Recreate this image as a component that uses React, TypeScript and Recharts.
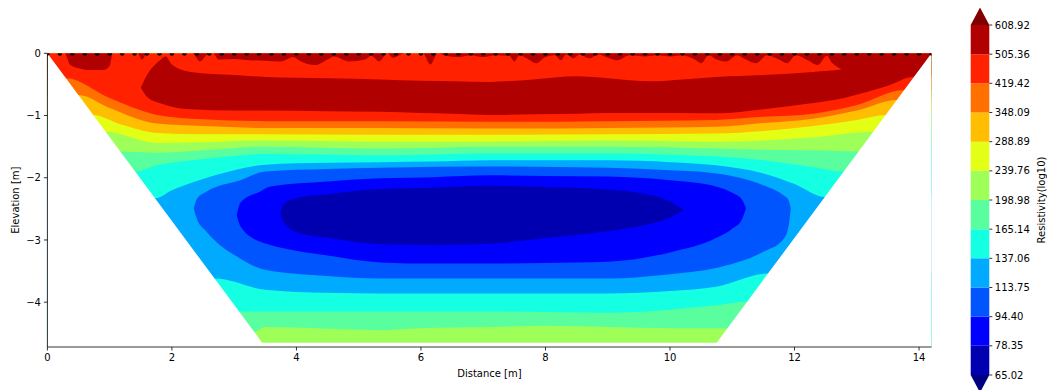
import React from 'react';
import { ComposedChart, Area, XAxis, YAxis, Scatter } from 'recharts';

// ---------- colour scale ----------
const levelLabels = ['65.02', '78.35', '94.40', '113.75', '137.06', '165.14', '198.98', '239.76', '288.89', '348.09', '419.42', '505.36', '608.92'];
const bandColors = ['#0000b0', '#0000ff', '#0055ff', '#00aaff', '#15ffe2', '#59ff9e', '#9eff59', '#e2ff15', '#ffbe00', '#ff7000', '#ff2100', '#b00000'];
const underColor = '#000080';
const overColor = '#800000';
const extendFrac = 0.6; // colorbar extension length in band units

// ---------- axes ----------
const X_MAX = 14.2;
const Y_MIN = -4.72;
const xTicks = [0, 2, 4, 6, 8, 10, 12, 14];
const yTicks = [0, -1, -2, -3, -4];
const electrodes = [0, 0.2, 0.4, 0.6, 0.8, 1, 1.2, 1.4, 1.6, 1.8, 2, 2.2, 2.4, 2.6, 2.8, 3, 3.2, 3.4, 3.6, 3.8, 4, 4.2, 4.4, 4.6, 4.8, 5, 5.2, 5.4, 5.6, 5.8, 6, 6.2, 6.4, 6.6, 6.8, 7, 7.2, 7.4, 7.6, 7.8, 8, 8.2, 8.4, 8.6, 8.8, 9, 9.2, 9.4, 9.6, 9.8, 10, 10.2, 10.4, 10.6, 10.8, 11, 11.2, 11.4, 11.6, 11.8, 12, 12.2, 12.4, 12.6, 12.8, 13, 13.2, 13.4, 13.6, 13.8, 14, 14.2];

// pseudo-section outline (x, elevation)
const trapezoid = [[0, 0], [3.45, -4.65], [10.75, -4.65], [14.2, 0]];

// ---------- contour boundaries (x, elevation) ----------
// upper layers: region from surface down to boundary
const top137 = [[0, -2.33], [1.73, -2.33], [2.0, -2.2], [2.5, -2.02], [3.0, -1.88], [3.5, -1.79], [4.5, -1.76], [5.35, -1.75], [6.2, -1.74], [7.1, -1.72], [8.0, -1.72], [9.0, -1.72], [10.0, -1.75], [10.74, -1.8], [11.5, -1.93], [12.0, -2.1], [12.49, -2.31], [14.2, -2.31]];
const top165 = [[0, -1.9], [1.41, -1.9], [1.76, -1.8], [2.5, -1.7], [3.0, -1.65], [3.5, -1.62], [5.35, -1.64], [7.1, -1.61], [9.0, -1.61], [10.0, -1.63], [10.74, -1.66], [11.5, -1.72], [12.3, -1.83], [12.79, -1.9], [14.2, -1.9]];
const top199 = [[0, -1.58], [1.17, -1.58], [1.76, -1.6], [2.5, -1.56], [3.5, -1.5], [5.35, -1.53], [7.1, -1.5], [9.0, -1.5], [10.74, -1.53], [11.5, -1.55], [12.3, -1.56], [13.03, -1.58], [14.2, -1.58]];
const top240 = [[0, -1.26], [0.93, -1.26], [1.76, -1.44], [2.5, -1.43], [3.5, -1.4], [5.35, -1.42], [7.1, -1.42], [9.0, -1.4], [10.74, -1.42], [11.5, -1.4], [12.3, -1.35], [13.27, -1.26], [14.2, -1.26]];
const top289 = [[0, -0.99], [0.73, -0.99], [1.2, -1.15], [1.76, -1.28], [2.5, -1.3], [3.5, -1.3], [5.35, -1.31], [7.1, -1.31], [9.0, -1.3], [10.74, -1.29], [11.5, -1.25], [12.3, -1.17], [13.0, -1.07], [13.47, -0.99], [14.2, -0.99]];
const top348 = [[0, -0.67], [0.5, -0.67], [1.0, -0.88], [1.76, -1.13], [2.5, -1.17], [3.5, -1.2], [5.35, -1.2], [7.1, -1.21], [9.0, -1.2], [10.74, -1.18], [11.5, -1.12], [12.3, -1.05], [13.0, -0.92], [13.64, -0.75], [14.2, -0.75]];
const top419 = [[0, -0.4], [0.3, -0.4], [1.0, -0.72], [1.76, -0.99], [2.5, -1.06], [3.5, -1.09], [5.35, -1.09], [7.1, -1.1], [9.0, -1.09], [10.74, -1.07], [11.5, -1.02], [12.3, -0.97], [13.0, -0.83], [13.76, -0.59], [14.2, -0.59]];

// main high-resistivity layer (x, lower, upper)
const core505 = [[1.5, -0.55, -0.55], [1.6, -0.7, -0.35], [1.8, -0.8, -0.12], [1.9, -0.83, -0.05], [2.0, -0.86, -0.18], [2.3, -0.9, -0.3], [3.0, -0.92, -0.35], [3.5, -0.92, -0.38], [4.5, -0.93, -0.4], [5.35, -0.94, -0.42], [6.0, -0.96, -0.44], [6.5, -0.97, -0.45], [7.1, -0.99, -0.46], [7.8, -0.98, -0.42], [8.5, -0.97, -0.37], [9.0, -0.96, -0.4], [9.7, -0.96, -0.45], [10.2, -0.96, -0.42], [10.74, -0.965, -0.38], [11.5, -0.9, -0.35], [12.3, -0.8, -0.3], [12.8, -0.72, -0.25], [13.1, -0.64, 0], [13.5, -0.52, 0], [13.92, -0.376, 0], [14.2, -0.376, 0]];

// thin high-resistivity fringe along the surface (x, lower edge)
const fringe505 = [[0, 0], [0.28, 0], [0.36, -0.18], [0.5, -0.24], [0.7, -0.27], [0.9, -0.27], [1.0, -0.2], [1.05, 0], [1.45, 0], [1.52, -0.1], [1.6, 0], [2.33, 0], [2.45, -0.13], [2.6, 0], [2.66, 0], [2.75, -0.1], [3.0, -0.09], [3.25, -0.11], [3.5, -0.12], [3.75, -0.13], [3.95, -0.06], [4.05, -0.12], [4.3, -0.19], [4.5, -0.1], [4.6, -0.05], [4.85, -0.13], [5.1, -0.1], [5.2, -0.04], [5.33, -0.13], [5.46, 0], [5.55, -0.07], [5.74, 0], [6.03, 0], [6.15, -0.18], [6.27, 0], [6.4, -0.04], [6.6, -0.06], [6.8, -0.03], [7.0, -0.06], [7.2, -0.03], [7.42, -0.04], [7.5, -0.13], [7.58, -0.03], [7.7, -0.08], [7.85, -0.16], [8.0, -0.06], [8.15, -0.03], [8.25, -0.11], [8.33, -0.02], [8.45, -0.08], [8.55, -0.02], [8.7, -0.08], [8.85, -0.02], [9.0, -0.07], [9.15, -0.11], [9.35, -0.03], [9.6, -0.05], [9.8, -0.03], [10.0, -0.05], [10.2, -0.03], [10.4, -0.1], [10.5, -0.16], [10.62, -0.03], [10.75, -0.1], [10.9, -0.13], [11.08, -0.03], [11.22, -0.1], [11.38, -0.16], [11.56, -0.03], [11.75, -0.1], [11.88, -0.16], [12.02, -0.03], [12.23, -0.12], [12.37, -0.19], [12.52, -0.04], [12.6, -0.15], [12.85, -0.27], [13.05, -0.25], [13.15, 0], [14.2, 0]];

// lower layers: region from bottom up to boundary
const bot137 = [[0, -3.62], [2.69, -3.62], [3.5, -3.8], [4.5, -3.85], [5.35, -3.86], [7.1, -3.86], [9.0, -3.86], [10.0, -3.82], [10.74, -3.75], [11.57, -3.54], [14.2, -3.54]];
const bot165 = [[0, -4.15], [3.08, -4.15], [3.5, -4.15], [5.35, -4.15], [7.1, -4.15], [9.0, -4.17], [10.0, -4.12], [10.74, -4.05], [11.24, -3.99], [14.2, -3.99]];
const bot199 = [[0, -4.48], [3.32, -4.48], [3.5, -4.4], [5.35, -4.45], [6.0, -4.42], [7.1, -4.4], [8.0, -4.38], [9.0, -4.4], [10.0, -4.42], [10.92, -4.42], [14.2, -4.42]];

// low-resistivity body (x, lower, upper)
const low113 = [[2.35, -2.49, -2.49], [2.4, -2.66, -2.34], [2.56, -2.87, -2.22], [3.1, -3.3, -2.04], [3.5, -3.48, -1.9], [4.5, -3.58, -1.86], [5.35, -3.62, -1.84], [7.1, -3.62, -1.82], [9.0, -3.62, -1.84], [10.0, -3.55, -1.88], [10.74, -3.45, -1.93], [11.5, -3.19, -2.12], [11.82, -2.99, -2.28], [11.9, -2.8, -2.35], [11.94, -2.49, -2.49]];
const low94 = [[3.04, -2.6, -2.6], [3.1, -2.78, -2.4], [3.42, -3.03, -2.22], [3.58, -3.08, -2.14], [4.5, -3.25, -2.06], [5.35, -3.36, -2.01], [6.2, -3.38, -1.99], [7.1, -3.38, -1.96], [8.0, -3.37, -1.97], [9.0, -3.35, -1.98], [10.0, -3.2, -2.04], [10.74, -2.97, -2.14], [11.0, -2.82, -2.24], [11.15, -2.68, -2.34], [11.22, -2.49, -2.49]];
const low78 = [[3.74, -2.57, -2.57], [3.8, -2.72, -2.42], [3.99, -2.87, -2.33], [4.53, -2.97, -2.26], [5.35, -3.07, -2.18], [6.2, -3.08, -2.16], [7.1, -3.06, -2.13], [8.0, -2.97, -2.15], [9.0, -2.86, -2.19], [9.6, -2.76, -2.26], [10.0, -2.64, -2.38], [10.22, -2.52, -2.52]];

// ---------- series builders ----------
const fromSurface = (pts) => pts.map(([x, y]) => ({ x, r: [y, 0] }));
const fromBottom = (pts) => pts.map(([x, y]) => ({ x, r: [Y_MIN, y] }));
const ranged = (pts) => pts.map(([x, lo, hi]) => ({ x, r: [lo, hi] }));

const layers = [
  { key: 'base', color: bandColors[3], data: fromBottom([[0, 0], [X_MAX, 0]]), type: 'linear' },
  { key: 't137', color: bandColors[4], data: fromSurface(top137), type: 'monotone' },
  { key: 't165', color: bandColors[5], data: fromSurface(top165), type: 'monotone' },
  { key: 't199', color: bandColors[6], data: fromSurface(top199), type: 'monotone' },
  { key: 't240', color: bandColors[7], data: fromSurface(top240), type: 'monotone' },
  { key: 't289', color: bandColors[8], data: fromSurface(top289), type: 'monotone' },
  { key: 't348', color: bandColors[9], data: fromSurface(top348), type: 'monotone' },
  { key: 't419', color: bandColors[10], data: fromSurface(top419), type: 'monotone' },
  { key: 'c505', color: bandColors[11], data: ranged(core505), type: 'monotone' },
  { key: 'f505', color: bandColors[11], data: fromSurface(fringe505), type: 'monotone' },
  { key: 'b137', color: bandColors[4], data: fromBottom(bot137), type: 'monotone' },
  { key: 'b165', color: bandColors[5], data: fromBottom(bot165), type: 'monotone' },
  { key: 'b199', color: bandColors[6], data: fromBottom(bot199), type: 'monotone' },
  { key: 'l113', color: bandColors[2], data: ranged(low113), type: 'monotone' },
  { key: 'l94', color: bandColors[1], data: ranged(low94), type: 'monotone' },
  { key: 'l78', color: bandColors[0], data: ranged(low78), type: 'monotone' },
  { key: 'mask', color: '#ffffff', data: fromBottom(trapezoid), type: 'linear' },
];

const electrodeData = electrodes.map((x) => ({ x, y: 0 }));

const minus = (v) => (v < 0 ? '\u2212' + Math.abs(v) : String(v));

const HalfDot = (props) => {
  const { cx, cy } = props;
  if (cx == null || cy == null) return null;
  const r = 2.4;
  return <path d={`M${cx - r},${cy} A${r},${r} 0 0 0 ${cx + r},${cy} Z`} fill="#000" />;
};

// colorbar series
const cbX = [0, 1];
const cbBands = bandColors.map((c, i) => ({ color: c, data: cbX.map((x) => ({ x, r: [i, i + 1] })) }));
const cbUnder = [{ x: 0, r: [0, 0] }, { x: 0.5, r: [-extendFrac, 0] }, { x: 1, r: [0, 0] }];
const cbOver = [{ x: 0, r: [12, 12] }, { x: 0.5, r: [12, 12 + extendFrac] }, { x: 1, r: [12, 12] }];
const cbTicks = levelLabels.map((_, i) => i);

const tickStyle = { fontSize: 10, fill: '#000' };

export default function App() {
  return (
    <div style={{ position: 'absolute', left: 0, top: 0, width: 1047, height: 390, overflow: 'hidden', background: '#fff', fontFamily: '"DejaVu Sans", sans-serif' }}>
      <div style={{ position: 'absolute', left: 0, top: 0 }}>
        <ComposedChart width={1047} height={390} margin={{ top: 53.3, right: 115.5, bottom: 13, left: 7.4 }}>
          <XAxis
            dataKey="x"
            type="number"
            domain={[0, X_MAX]}
            ticks={xTicks}
            interval={0}
            allowDataOverflow
            height={30}
            tickSize={3.5}
            tickMargin={3}
            tick={tickStyle}
            axisLine={{ stroke: '#000', strokeWidth: 0.8 }}
            tickLine={{ stroke: '#000', strokeWidth: 0.8 }}
            label={{ value: 'Distance [m]', position: 'insideBottom', offset: 0, style: { fontSize: 10, fill: '#000' } }}
          />
          <YAxis
            type="number"
            domain={[Y_MIN, 0]}
            ticks={yTicks}
            interval={0}
            allowDataOverflow
            width={40}
            tickSize={3.5}
            tickMargin={3}
            tick={tickStyle}
            tickFormatter={minus}
            axisLine={{ stroke: '#000', strokeWidth: 0.8 }}
            tickLine={{ stroke: '#000', strokeWidth: 0.8 }}
            label={{ value: 'Elevation [m]', angle: -90, position: 'insideLeft', offset: 8, style: { fontSize: 10, fill: '#000', textAnchor: 'middle' } }}
          />
          <XAxis xAxisId="top" orientation="top" type="number" domain={[0, X_MAX]} height={0} tick={false} tickLine={false} axisLine={{ stroke: '#000', strokeWidth: 0.8 }} />
          <YAxis yAxisId="right" orientation="right" type="number" domain={[Y_MIN, 0]} width={0} tick={false} tickLine={false} axisLine={{ stroke: '#000', strokeWidth: 0.8 }} />
          {layers.map((l) => (
            <Area
              key={l.key}
              data={l.data}
              dataKey="r"
              type={l.type}
              fill={l.color}
              fillOpacity={1}
              stroke="none"
              dot={false}
              activeDot={false}
              isAnimationActive={false}
              legendType="none"
            />
          ))}
          <Scatter data={electrodeData} dataKey="y" shape={HalfDot} isAnimationActive={false} legendType="none" />
        </ComposedChart>
      </div>
      <div style={{ position: 'absolute', left: 950, top: 0 }}>
        <ComposedChart width={97} height={390} margin={{ top: 7.5, right: 7.7, bottom: -2.5, left: 20.7 }}>
          <XAxis dataKey="x" type="number" domain={[0, 1]} hide />
          <YAxis
            orientation="right"
            type="number"
            domain={[-extendFrac, 12 + extendFrac]}
            ticks={cbTicks}
            interval={0}
            allowDataOverflow
            width={50}
            tickSize={3}
            tickMargin={2.5}
            tick={tickStyle}
            tickFormatter={(v) => levelLabels[v]}
            axisLine={false}
            tickLine={{ stroke: '#000', strokeWidth: 0.8 }}
            label={{ value: 'Resistivity(log10)', angle: -90, position: 'insideRight', offset: -2, style: { fontSize: 10, fill: '#000', textAnchor: 'middle' } }}
          />
          {cbBands.map((b, i) => (
            <Area key={'cb' + i} data={b.data} dataKey="r" type="linear" fill={b.color} fillOpacity={1} stroke="none" dot={false} activeDot={false} isAnimationActive={false} legendType="none" />
          ))}
          <Area data={cbUnder} dataKey="r" type="linear" fill={underColor} fillOpacity={1} stroke="none" dot={false} activeDot={false} isAnimationActive={false} legendType="none" />
          <Area data={cbOver} dataKey="r" type="linear" fill={overColor} fillOpacity={1} stroke="none" dot={false} activeDot={false} isAnimationActive={false} legendType="none" />
        </ComposedChart>
      </div>
    </div>
  );
}
